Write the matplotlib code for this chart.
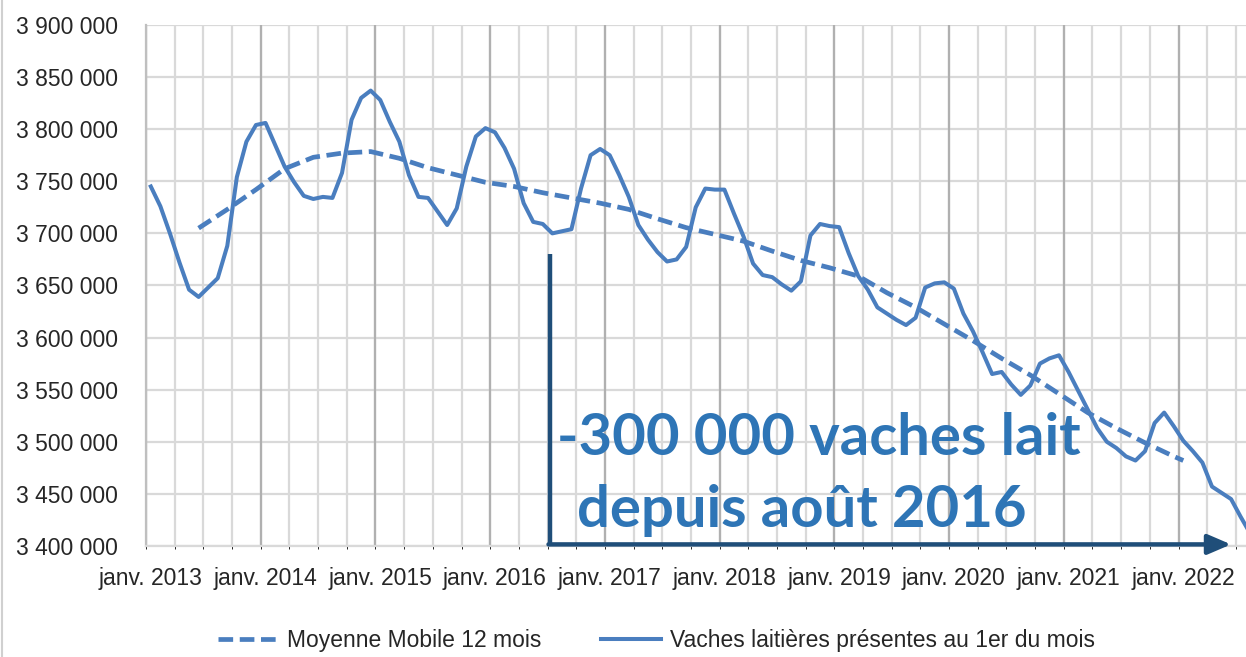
import matplotlib
matplotlib.use("Agg")
import matplotlib.pyplot as plt
from matplotlib.ticker import FuncFormatter, FixedLocator
from matplotlib.lines import Line2D

# Vaches laitières présentes au 1er du mois, janv. 2013 -> août 2022
vaches = [
    3745000, 3726000, 3700000, 3672000, 3646000, 3639000, 3648000, 3657000, 3688000, 3754000, 3788000, 3804000,
    3806000, 3785000, 3764000, 3749000, 3736000, 3733000, 3735000, 3734000, 3758000, 3809000, 3830000, 3837000,
    3828000, 3807000, 3788000, 3756000, 3735000, 3734000, 3721000, 3708000, 3724000, 3764000, 3793000, 3801000,
    3797000, 3782000, 3762000, 3729000, 3711000, 3709000, 3700000, 3702000, 3704000, 3743000, 3775000, 3781000,
    3775000, 3756000, 3735000, 3708000, 3694000, 3682000, 3673000, 3675000, 3687000, 3725000, 3743000, 3742000,
    3742000, 3719000, 3697000, 3671000, 3660000, 3658000, 3651000, 3645000, 3654000, 3698000, 3709000, 3707000,
    3706000, 3681000, 3659000, 3646000, 3629000, 3623000, 3617000, 3612000, 3619000, 3648000, 3652000, 3653000,
    3647000, 3623000, 3606000, 3586000, 3565000, 3567000, 3555000, 3545000, 3554000, 3575000, 3580000, 3583000,
    3567000, 3549000, 3531000, 3513000, 3500000, 3494000, 3486000, 3482000, 3491000, 3518000, 3528000, 3515000,
    3501000, 3491000, 3480000, 3457000, 3451000, 3445000, 3428000, 3412000,
]

# Moyenne mobile 12 mois (index du mois depuis janv. 2013)
mm_mois = [5, 8, 11, 14, 17, 20, 23, 26, 29, 32, 35, 38, 41, 44, 47, 50, 53, 56, 59, 62,
           65, 68, 71, 74, 77, 80, 83, 86, 89, 92, 95, 98, 101, 104, 107, 108]
mm_valeurs = [3705000, 3723000, 3742000, 3762000, 3773000, 3777000, 3778500, 3772000, 3763000, 3756000,
              3749000, 3745000, 3739000, 3734000, 3729000, 3723000, 3714000, 3705500, 3699000, 3692500,
              3683000, 3674000, 3667000, 3659000, 3643000, 3629000, 3613000, 3597000, 3580000, 3564000,
              3546000, 3528000, 3513000, 3499000, 3486000, 3482000]

annees = list(range(2013, 2023))
labels_x = ["janv. %d" % a for a in annees]

bleu = "#4A7EBF"
marine = "#1F4E79"
texte_bleu = "#2E75B6"
police = ["Liberation Sans Narrow", "Liberation Sans", "DejaVu Sans"]
tirets = (0, (3.1, 1.4))

plt.rcParams['font.family'] = police

fig = plt.figure(figsize=(12.46, 6.57), dpi=100)
ax = fig.add_axes([0.1172, 0.169, 0.8828, 0.793])

mois = list(range(len(vaches)))
ax.plot(mm_mois, mm_valeurs, color=bleu, lw=3.4, ls=tirets, solid_capstyle='butt', zorder=3)
ax.plot(mois, vaches, color=bleu, lw=2.9, zorder=3)

ax.set_xlim(-0.5, 114.56)
ax.set_ylim(3400000, 3900000)
ax.set_yticks(range(3400000, 3900001, 50000))
ax.yaxis.set_major_formatter(FuncFormatter(lambda v, p: "{:,.0f}".format(v).replace(",", " ")))
ax.set_xticks([12 * k for k in range(len(annees))])
ax.set_xticklabels(labels_x)
ax.tick_params(axis='both', length=0, labelsize=16.5, colors="#262626")
ax.tick_params(axis='y', pad=20)
ax.tick_params(axis='x', pad=15)

# grille : trimestres clairs, années plus foncées
ax.grid(axis='y', color="#D9D9D9", lw=1.6)
ax.xaxis.set_minor_locator(FixedLocator([-0.5 + 3 * k for k in range(40)]))
ax.grid(axis='x', which='minor', color="#D9D9D9", lw=1.6)
for k in range(len(annees)):
    ax.axvline(-0.5 + 12 * k, color="#B0B0B0", lw=1.6, zorder=1)
ax.set_axisbelow(True)
for s in ['top', 'right']:
    ax.spines[s].set_visible(False)
ax.spines['left'].set_color("#BFBFBF")
ax.spines['left'].set_linewidth(1.6)
ax.spines['bottom'].set_color("#D9D9D9")
ax.spines['bottom'].set_linewidth(1.6)

# annotation -300 000 vaches
ax.plot([41.75, 41.75], [3680000, 3401500], color=marine, lw=3.2, solid_capstyle='butt', zorder=4)
ax.annotate("", xy=(113.0, 3401500), xytext=(41.6, 3401500),
            arrowprops=dict(arrowstyle="-|>,head_length=0.7,head_width=0.3", color=marine, lw=3.2,
                            shrinkA=0, shrinkB=0, mutation_scale=20), zorder=4)
ax.text(42.5, 3487000, "-300 000 vaches lait", color=texte_bleu, fontsize=41.8, fontweight='bold',
        family=["Lato", "DejaVu Sans"], va='baseline', ha='left', zorder=5)
ax.text(44.6, 3418000, "depuis août 2016", color=texte_bleu, fontsize=41.8, fontweight='bold',
        family=["Lato", "DejaVu Sans"], va='baseline', ha='left', zorder=5)

poignees = [Line2D([], [], color=bleu, lw=3.4, ls=tirets),
            Line2D([], [], color=bleu, lw=2.9)]
fig.legend(poignees, ["Moyenne Mobile 12 mois", "Vaches laitières présentes au 1er du mois"],
           loc='lower center', bbox_to_anchor=(0.527, -0.024), ncol=2, frameon=False, fontsize=16.5,
           handlelength=2.6, handletextpad=0.4, columnspacing=2.6, labelcolor="#262626")

# bordure gauche du cadre
fig.add_artist(Line2D([0.002, 0.002], [0, 1], color="#D0D0D0", lw=1.5, transform=fig.transFigure))

fig.savefig("out.png", dpi=100)
